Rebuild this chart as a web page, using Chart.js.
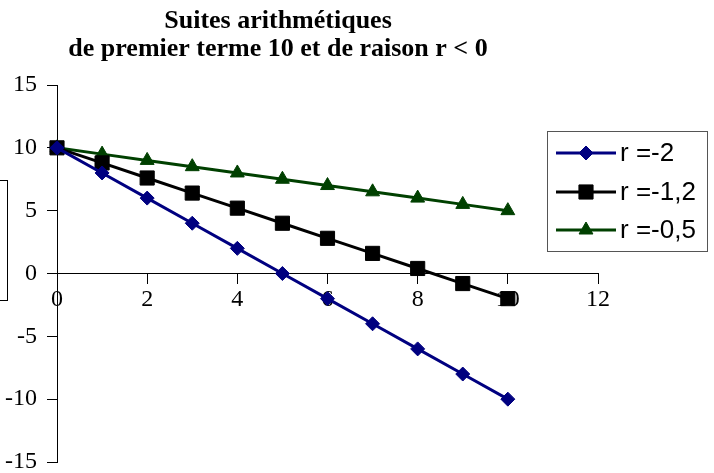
<!DOCTYPE html>
<html>
<head>
<meta charset="utf-8">
<script src="https://cdn.jsdelivr.net/npm/chart.js@4"></script>
<style>
  html, body { margin: 0; padding: 0; background: #fff; }
  #wrap { width: 714px; height: 473px; }
</style>
</head>
<body>
<div id="wrap"><canvas id="c" width="714" height="473"></canvas></div>
<script>
// Terms u(n) = 10 + n*r for n = 0..10
const ranks = [0, 1, 2, 3, 4, 5, 6, 7, 8, 9, 10];
const seriesA = [10, 8, 6, 4, 2, 0, -2, -4, -6, -8, -10];            // r = -2
const seriesB = [10, 8.8, 7.6, 6.4, 5.2, 4, 2.8, 1.6, 0.4, -0.8, -2]; // r = -1,2
const seriesC = [10, 9.5, 9, 8.5, 8, 7.5, 7, 6.5, 6, 5.5, 5];         // r = -0,5
const seriesNames = ['r =-2', 'r =-1,2', 'r =-0,5'];
const titleLines = ['Suites arithmétiques', 'de premier terme 10 et de raison r < 0'];
const xTicks = [0, 2, 4, 6, 8, 10, 12];
const yTicks = [-15, -10, -5, 0, 5, 10, 15];

const toPoints = vals => vals.map((v, i) => ({ x: ranks[i], y: v }));

const serif = 'Liberation Serif, Times New Roman, serif';

// Two-line bold title and boxed legend drawn on the canvas
const decorations = {
  id: 'decorations',
  afterDraw(chart) {
    const ctx = chart.ctx;
    ctx.save();
    ctx.fillStyle = '#000';
    ctx.font = 'bold 26px ' + serif;
    ctx.textAlign = 'center';
    ctx.textBaseline = 'middle';
    titleLines.forEach((t, i) => ctx.fillText(t, 278, 21 + i * 28));

    // small frame at the left edge
    ctx.strokeStyle = '#000';
    ctx.lineWidth = 1;
    ctx.strokeRect(-1, 180.5, 8.5, 120);

    // legend
    ctx.strokeStyle = '#555';
    ctx.strokeRect(547.5, 131.5, 160, 120);
    ctx.font = '26px Liberation Sans, Arial, sans-serif';
    ctx.textAlign = 'left';
    const rows = [153, 192, 230];
    chart.data.datasets.forEach((ds, i) => {
      const y = rows[i];
      ctx.strokeStyle = ds.borderColor;
      ctx.lineWidth = ds.borderWidth;
      ctx.beginPath();
      ctx.moveTo(556, y);
      ctx.lineTo(616, y);
      ctx.stroke();
      ctx.fillStyle = ds.pointBackgroundColor;
      ctx.strokeStyle = ds.pointBorderColor;
      ctx.lineWidth = 1;
      Chart.helpers.drawPoint(ctx, { pointStyle: ds.pointStyle, radius: ds.pointRadius, borderWidth: 1, rotation: 0 }, 586, y);
      ctx.fillStyle = '#000';
      ctx.fillText(ds.label, 620, y + 1);
    });
    ctx.restore();
  }
};

function makeSet(label, vals, color, style, radius) {
  return {
    label: label,
    data: toPoints(vals),
    borderColor: color,
    backgroundColor: color,
    pointBackgroundColor: color,
    pointBorderColor: color,
    borderWidth: 3,
    pointStyle: style,
    pointRadius: radius,
    pointHoverRadius: radius,
    pointBorderWidth: 1,
    tension: 0,
    clip: false
  };
}

new Chart(document.getElementById('c'), {
  type: 'line',
  data: {
    datasets: [
      makeSet(seriesNames[0], seriesA, '#000080', 'rectRot', 7),
      makeSet(seriesNames[1], seriesB, '#000000', 'rect', 10),
      makeSet(seriesNames[2], seriesC, '#004000', 'triangle', 8)
    ]
  },
  options: {
    responsive: false,
    animation: false,
    devicePixelRatio: 1,
    layout: { padding: { top: 85, right: 116, bottom: 10, left: 0 } },
    plugins: {
      legend: { display: false },
      title: { display: false },
      tooltip: { enabled: false }
    },
    scales: {
      x: {
        type: 'linear',
        position: { y: 0 },
        min: 0,
        max: 12,
        afterBuildTicks: s => { s.ticks = xTicks.map(v => ({ value: v })); },
        grid: { drawOnChartArea: false, drawTicks: true, tickLength: 10, color: '#000' },
        border: { display: true, color: '#000', width: 1 },
        ticks: { color: '#000', font: { family: serif, size: 24 }, padding: 2, maxRotation: 0 }
      },
      y: {
        type: 'linear',
        min: -15,
        max: 15,
        afterBuildTicks: s => { s.ticks = yTicks.map(v => ({ value: v })); },
        afterFit: s => { s.width = 57; s.paddingTop = 0; s.paddingBottom = 0; },
        grid: { drawOnChartArea: false, drawTicks: true, tickLength: 10, color: '#000' },
        border: { display: true, color: '#000', width: 1 },
        ticks: { color: '#000', font: { family: serif, size: 24 }, padding: 10 }
      }
    }
  },
  plugins: [decorations]
});
</script>
</body>
</html>
